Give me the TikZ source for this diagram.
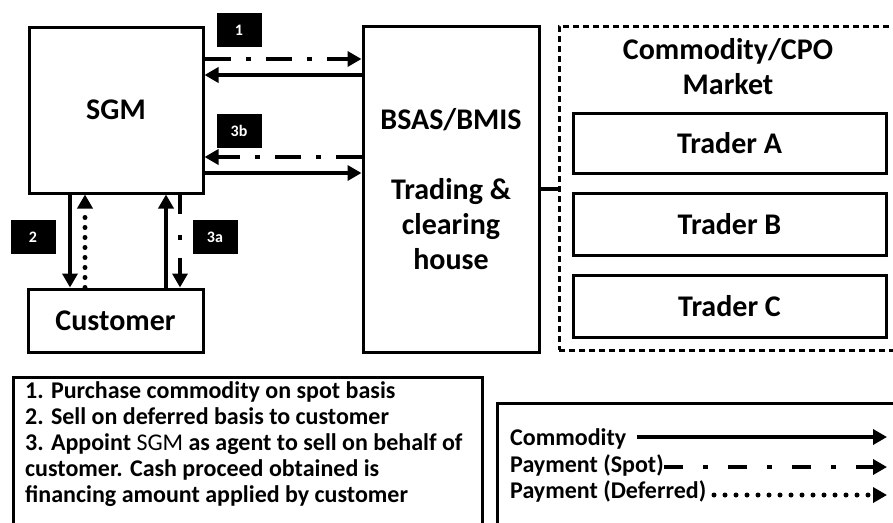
\documentclass[tikz,border=0pt]{standalone}
\usepackage{fontspec}
\setmainfont{Carlito}
\usetikzlibrary{arrows.meta}
\begin{document}
\begin{tikzpicture}[x=1pt,y=-1pt,
  box/.style={draw, line width=3pt, inner sep=0pt, align=center,
    font=\bfseries\fontsize{30}{35}\selectfont},
  lab/.style={fill=black, text=white, inner sep=0pt, minimum width=45pt,
    minimum height=34pt, font=\bfseries\fontsize{16}{16}\selectfont},
  note/.style={anchor=base west, inner sep=0pt, font=\bfseries\fontsize{24}{26}\selectfont},
  tip/.style={-{Triangle[length=14pt,width=15pt]}},
  commodity/.style={tip, line width=4pt},
  spot/.style={tip, line width=4pt, dash pattern=on 26pt off 15pt on 5pt off 15pt},
  spotleg/.style={tip, line width=4pt, dash pattern=on 19pt off 20pt on 5pt off 20pt},
  deferred/.style={tip, line width=5pt, line cap=round, dash pattern=on 0pt off 10pt},
  deferredleg/.style={tip, line width=5pt, line cap=round, dash pattern=on 0pt off 11pt},
]
\clip (0,0) rectangle (893,522);
\fill[white] (0,0) rectangle (893,522);

% main boxes
\node[box, minimum width=174pt, minimum height=166pt] (sgm) at (116,110) {SGM};
\node[box, minimum width=175pt, minimum height=63pt] (cust) at (115.5,320.5) {Customer};
\node[box, minimum width=176pt, minimum height=326pt] (bsas) at (451,189)
  {BSAS/BMIS\\[35pt]Trading \&\\clearing\\house};
\node[draw, line width=3pt, dash pattern=on 6pt off 4pt, inner sep=0pt,
  minimum width=338pt, minimum height=324pt] (market) at (728,188) {};
\node[inner sep=0pt, align=center, font=\bfseries\fontsize{30}{35}\selectfont]
  (mtitle) at (728,67) {Commodity/CPO\\Market};
\node[box, minimum width=313pt, minimum height=60pt] (ta) at (729.5,143) {Trader A};
\node[box, minimum width=313pt, minimum height=62pt] (tb) at (729.5,224) {Trader B};
\node[box, minimum width=313pt, minimum height=62pt] (tc) at (729.5,306) {Trader C};

% link BSAS -- market
\draw[line width=4pt] (bsas.east |- 0,189) -- (market.west |- 0,189);

% step labels
\node[lab] (l1) at (239,30) {1};
\node[lab] (l3b) at (239,131) {3b};
\node[lab] (l2) at (33,237) {2};
\node[lab] (l3a) at (215,237) {3a};

% horizontal arrows SGM <-> BSAS
\draw[spot] (sgm.east |- 0,59) -- (bsas.west |- 0,59);
\draw[commodity] (bsas.west |- 0,75) -- (sgm.east |- 0,75);
\draw[spot] (bsas.west |- 0,157) -- (sgm.east |- 0,157);
\draw[commodity] (sgm.east |- 0,173) -- (bsas.west |- 0,173);

% vertical arrows SGM <-> Customer
\draw[commodity] (sgm.south -| 70,0) -- (cust.north -| 70,0);
\draw[deferred] (cust.north -| 85,0) -- (sgm.south -| 85,0);
\draw[commodity] (cust.north -| 166,0) -- (sgm.south -| 166,0);
\draw[tip, line width=4pt, dash pattern=on 19pt off 21pt on 5pt off 18pt]
  (sgm.south -| 180,0) -- (cust.north -| 180,0);

% notes box
\node[draw, line width=3pt, inner sep=0pt, minimum width=469pt, minimum height=170pt,
  anchor=north west] (notes) at (12,376) {};
\node[note] (n1) at (25,398) {1. Purchase commodity on spot basis};
\node[note] (n2) at (25,424) {2. Sell on deferred basis to customer};
\node[note] (n3) at (25,450) {3. Appoint {\mdseries SGM} as agent to sell on behalf of};
\node[note] (n4) at (25,476) {customer. Cash proceed obtained is};
\node[note] (n5) at (25,502) {financing amount applied by customer};

% legend box
\node[draw, line width=3pt, inner sep=0pt, minimum width=420pt, minimum height=150pt,
  anchor=north west] (legend) at (496,402) {};
\node[note] (g1) at (510,445) {Commodity};
\node[note] (g2) at (510,472) {Payment (Spot)};
\node[note] (g3) at (510,498) {Payment (Deferred)};
\coordinate (g1s) at (637,437);
\coordinate (g1e) at (887,437);
\coordinate (g2s) at (664,467);
\coordinate (g2e) at (887,467);
\coordinate (g3s) at (714,495);
\coordinate (g3e) at (887,495);
\draw[commodity] (g1s) -- (g1e);
\draw[spotleg] (g2s) -- (g2e);
\draw[deferredleg] (g3s) -- (g3e);
\end{tikzpicture}
\end{document}
